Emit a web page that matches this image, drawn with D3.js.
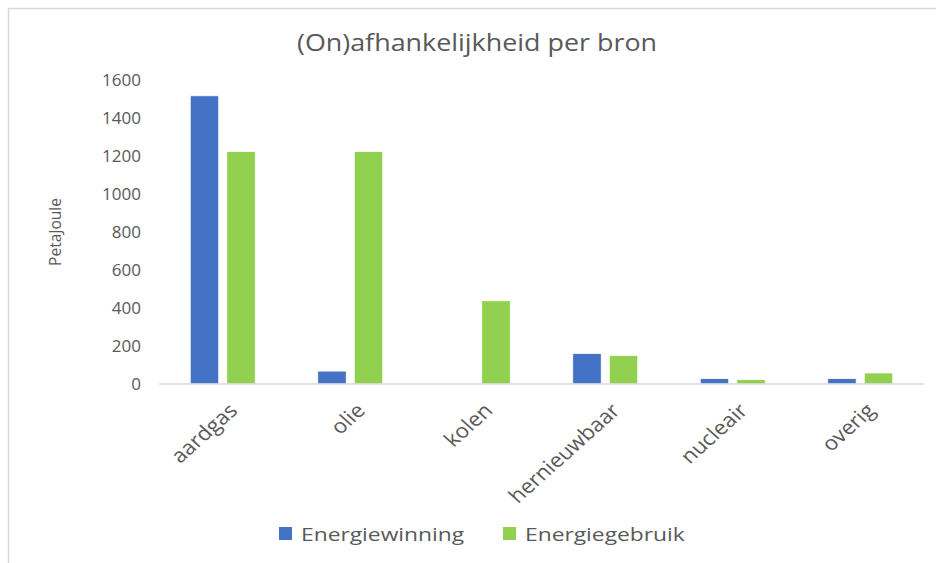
<!DOCTYPE html>
<html>
<head>
<meta charset="utf-8">
<style>
  body { margin: 0; background: #fff; }
  svg { display: block; font-family: "Open Sans", sans-serif; }
  .tick text { fill: #595959; }
</style>
<script src="https://d3js.org/d3.v7.min.js"></script>
</head>
<body>
<svg width="936" height="563"></svg>
<script>
// data (PetaJoule)
var categories = ["aardgas", "olie", "kolen", "hernieuwbaar", "nucleair", "overig"];
var seriesNames = ["Energiewinning", "Energiegebruik"];
var winning = [1517, 68, 0, 161, 29, 29];
var gebruik = [1224, 1224, 438, 150, 24, 58];
var yTicks = [0, 200, 400, 600, 800, 1000, 1200, 1400, 1600];
var colors = ["#4472c4", "#92d050"];

var svg = d3.select("svg");
var textGrey = "#595959";
var stretch = 1.12; // the source picture is a bit wider than it is tall

// frame (only top and left show)
svg.append("line").attr("x1", 8).attr("x2", 936).attr("y1", 8.5).attr("y2", 8.5)
   .attr("stroke", "#d9d9d9").attr("stroke-width", 1.5);
svg.append("line").attr("x1", 8.5).attr("x2", 8.5).attr("y1", 8).attr("y2", 563)
   .attr("stroke", "#d9d9d9").attr("stroke-width", 1.5);

svg.append("text")
   .attr("transform", "translate(477,51) scale(" + stretch + ",1)")
   .attr("text-anchor", "middle")
   .attr("font-size", "24px")
   .attr("fill", textGrey)
   .text("(On)afhankelijkheid per bron");

var x0 = d3.scaleBand().domain(categories).range([159, 924])
           .paddingInner(0.49).paddingOuter(0.245);
var x1 = d3.scaleBand().domain(seriesNames).range([0, x0.bandwidth()])
           .paddingInner(0.22);
var y = d3.scaleLinear().domain([0, 1600]).range([384, 80]);

// y axis
var yAxis = svg.append("g")
   .attr("transform", "translate(159,0)")
   .call(d3.axisLeft(y).tickValues(yTicks).tickFormat(d3.format("d"))
           .tickSize(0).tickPadding(18));
yAxis.attr("font-family", null);
yAxis.select(".domain").remove();
yAxis.selectAll("text").attr("font-size", "17px");

svg.append("text")
   .attr("transform", "translate(61,232) rotate(-90)")
   .attr("text-anchor", "middle")
   .attr("font-size", "15.5px")
   .attr("fill", textGrey)
   .text("PetaJoule");

// bars
var table = categories.map(function(c, i) {
  return { cat: c, values: [
    { key: seriesNames[0], v: winning[i] },
    { key: seriesNames[1], v: gebruik[i] }
  ]};
});

var groups = svg.selectAll(".grp")
  .data(table)
  .enter().append("g")
  .attr("class", "grp")
  .attr("transform", function(d) { return "translate(" + x0(d.cat) + ",0)"; });

groups.selectAll("rect")
  .data(function(d) { return d.values; })
  .enter().append("rect")
  .attr("x", function(d) { return x1(d.key); })
  .attr("y", function(d) { return y(d.v); })
  .attr("width", x1.bandwidth())
  .attr("height", function(d) { return y(0) - y(d.v); })
  .attr("fill", function(d, i) { return colors[i]; })
  .attr("stroke", "#fff")
  .attr("stroke-width", 0.8);

// x axis
var xAxis = svg.append("g")
   .attr("transform", "translate(0," + y(0) + ")")
   .call(d3.axisBottom(x0).tickSize(0).tickPadding(0));
xAxis.attr("font-family", null);
xAxis.select(".domain").attr("stroke", "#d9d9d9").attr("stroke-width", 1.5)
   .attr("d", "M159,0H924");
xAxis.selectAll(".tick text")
   .attr("font-size", "20px")
   .attr("text-anchor", "end")
   .attr("y", 0).attr("dy", "0.7em")
   .attr("transform", "translate(5,18) scale(" + stretch + ",1) rotate(-45)");

// legend
var legend = svg.append("g").attr("transform", "translate(279,527)");
var legX = [0, 224];
seriesNames.forEach(function(name, i) {
  legend.append("rect")
    .attr("x", legX[i]).attr("y", 0)
    .attr("width", 13).attr("height", 13)
    .attr("fill", colors[i]);
  legend.append("text")
    .attr("transform", "translate(" + (legX[i] + 22) + ",14) scale(1.2,1)")
    .attr("font-size", "19px")
    .attr("fill", textGrey)
    .text(name);
});
</script>
</body>
</html>
